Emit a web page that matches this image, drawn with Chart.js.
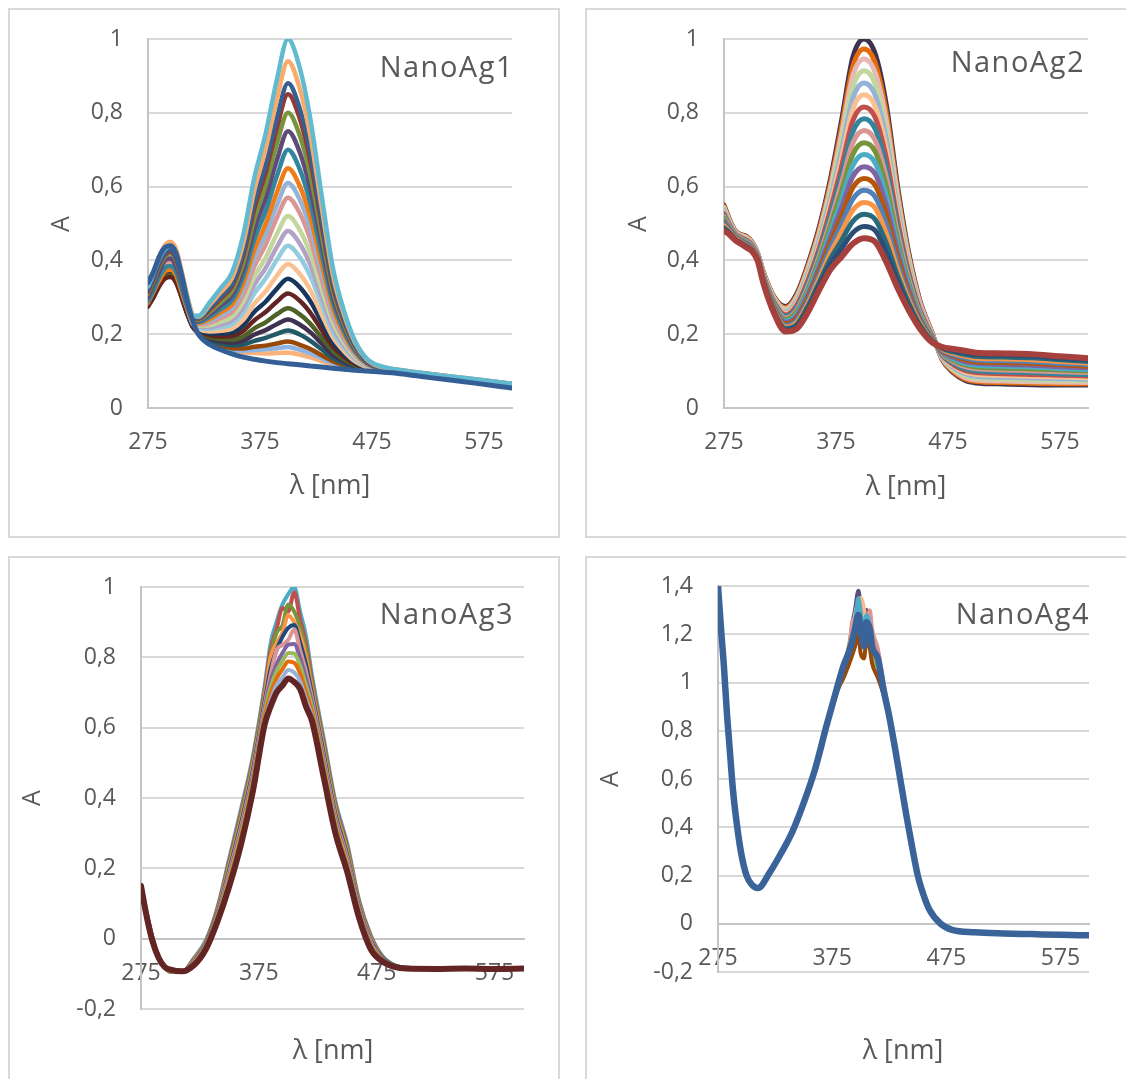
<!DOCTYPE html>
<html>
<head>
<meta charset="utf-8">
<script src="https://cdn.jsdelivr.net/npm/chart.js@4.4.1/dist/chart.umd.min.js"></script>
<style>
  html, body { margin: 0; padding: 0; background: #fff; }
  body { width: 1126px; height: 1079px; position: relative; overflow: hidden; }
  .panel { position: absolute; box-sizing: border-box; border: 2px solid #d9d9d9; background: #fff; }
  .panel canvas { display: block; }
</style>
</head>
<body>
<div class="panel" style="left:8px;top:8px;width:552px;height:530px"><canvas id="ag1" width="548" height="526"></canvas></div>
<div class="panel" style="left:585px;top:8px;width:545px;height:530px"><canvas id="ag2" width="541" height="526"></canvas></div>
<div class="panel" style="left:8px;top:556px;width:552px;height:530px"><canvas id="ag3" width="548" height="526"></canvas></div>
<div class="panel" style="left:585px;top:556px;width:545px;height:530px"><canvas id="ag4" width="541" height="526"></canvas></div>
<script>
// ---------- shared axis ticks ----------
const xTicks = [275, 375, 475, 575];
const yTicksA = [0, 0.2, 0.4, 0.6, 0.8, 1];
const yTicksB = [-0.2, 0, 0.2, 0.4, 0.6, 0.8, 1];
const yTicksC = [-0.2, 0, 0.2, 0.4, 0.6, 0.8, 1, 1.2, 1.4];

// ---------- NanoAg1: wavelengths [nm] and absorbance spectra ----------
const wl1 = [275,280,285,290,295,300,305,310,315,320,330,340,350,360,370,380,390,400,410,420,430,440,450,460,470,480,500,525,550,575,600];
const ag1_01 = [.34,.37,.41,.435,.44,.42,.36,.29,.235,.200,.172,.158,.147,.138,.132,.127,.123,.120,.117,.114,.111,.108,.105,.102,.100,.098,.093,.083,.074,.064,.054];
const ag1_02 = [.30,.35,.40,.44,.45,.43,.37,.30,.24,.202,.176,.164,.155,.149,.149,.148,.149,.150,.145,.137,.127,.117,.110,.105,.101,.099,.098,.089,.080,.071,.063];
const ag1_03 = [.29,.32,.35,.37,.38,.36,.31,.26,.22,.203,.178,.167,.158,.155,.157,.159,.162,.165,.158,.148,.135,.122,.113,.106,.102,.099,.097,.088,.079,.070,.061];
const ag1_04 = [.28,.31,.345,.37,.375,.355,.31,.26,.22,.203,.180,.169,.162,.161,.166,.169,.175,.180,.172,.160,.143,.127,.116,.107,.102,.099,.097,.087,.078,.069,.060];
const ag1_05 = [.29,.32,.355,.38,.385,.365,.315,.265,.222,.205,.184,.175,.170,.172,.182,.190,.201,.210,.200,.182,.159,.136,.121,.110,.104,.100,.097,.087,.078,.069,.060];
const ag1_06 = [.28,.31,.34,.36,.37,.35,.305,.258,.22,.207,.188,.181,.177,.183,.199,.211,.227,.240,.227,.205,.175,.145,.127,.113,.105,.100,.097,.087,.078,.069,.060];
const ag1_07 = [.28,.305,.335,.355,.36,.345,.30,.255,.22,.209,.192,.187,.185,.194,.216,.232,.254,.270,.255,.228,.191,.155,.132,.116,.106,.101,.097,.087,.078,.069,.060];
const ag1_08 = [.275,.30,.33,.35,.355,.34,.30,.255,.22,.211,.197,.194,.195,.209,.238,.260,.288,.310,.292,.258,.212,.167,.139,.119,.108,.102,.098,.088,.079,.070,.061];
const ag1_09 = [.285,.315,.35,.375,.38,.36,.315,.265,.225,.213,.202,.202,.205,.224,.261,.288,.323,.350,.329,.289,.233,.179,.146,.123,.109,.102,.098,.088,.079,.070,.061];
const ag1_10 = [.29,.32,.355,.38,.39,.37,.32,.27,.228,.215,.207,.209,.215,.239,.283,.316,.358,.390,.365,.319,.254,.192,.154,.126,.111,.103,.099,.089,.080,.071,.062];
const ag1_11 = [.295,.33,.365,.39,.40,.38,.33,.275,.23,.218,.214,.219,.227,.258,.311,.351,.401,.440,.411,.357,.281,.207,.163,.131,.113,.104,.099,.089,.080,.071,.062];
const ag1_12 = [.30,.335,.37,.395,.405,.385,.335,.28,.232,.221,.219,.226,.237,.273,.334,.379,.436,.480,.448,.388,.302,.220,.170,.134,.114,.105,.099,.089,.080,.071,.062];
const ag1_13 = [.30,.335,.375,.40,.41,.39,.34,.285,.235,.223,.224,.234,.247,.288,.356,.407,.471,.520,.485,.418,.323,.232,.177,.138,.116,.106,.100,.090,.081,.072,.063];
const ag1_14 = [.295,.33,.365,.39,.40,.38,.33,.28,.235,.226,.231,.244,.260,.307,.384,.442,.515,.570,.531,.456,.350,.248,.186,.143,.118,.107,.100,.090,.081,.072,.063];
const ag1_15 = [.30,.34,.38,.405,.415,.395,.345,.29,.24,.228,.236,.251,.270,.322,.406,.470,.549,.610,.568,.486,.371,.260,.193,.146,.120,.108,.100,.090,.081,.072,.063];
const ag1_16 = [.285,.315,.345,.37,.375,.36,.315,.27,.235,.230,.241,.259,.280,.337,.429,.498,.584,.650,.605,.517,.392,.272,.200,.150,.121,.109,.101,.091,.082,.073,.064];
const ag1_17 = [.29,.32,.355,.38,.385,.37,.325,.275,.24,.233,.247,.268,.292,.356,.457,.533,.628,.700,.651,.555,.418,.288,.209,.154,.123,.110,.101,.091,.082,.073,.064];
const ag1_18 = [.30,.335,.37,.40,.405,.385,.34,.285,.242,.236,.254,.278,.305,.374,.485,.568,.671,.750,.697,.593,.445,.303,.218,.159,.125,.111,.101,.091,.082,.073,.064];
const ag1_19 = [.31,.345,.385,.41,.42,.40,.35,.29,.245,.239,.260,.287,.317,.393,.513,.603,.715,.800,.743,.631,.471,.319,.227,.163,.127,.112,.102,.092,.083,.074,.065];
const ag1_20 = [.315,.35,.39,.415,.425,.405,.355,.295,.247,.242,.267,.297,.330,.412,.541,.638,.758,.850,.789,.669,.498,.334,.236,.168,.129,.113,.102,.092,.083,.074,.065];
const ag1_21 = [.32,.355,.395,.42,.43,.41,.36,.30,.25,.243,.271,.302,.337,.423,.558,.659,.784,.880,.816,.692,.514,.344,.242,.170,.130,.113,.102,.092,.083,.074,.065];
const ag1_22 = [.33,.37,.41,.44,.45,.43,.37,.305,.252,.247,.279,.314,.352,.446,.591,.701,.836,.940,.871,.737,.546,.362,.253,.176,.133,.114,.103,.093,.084,.075,.066];
const ag1_23 = [.33,.365,.405,.43,.44,.42,.365,.30,.25,.250,.286,.325,.367,.468,.625,.743,.889,1.0,.927,.783,.577,.381,.263,.181,.135,.116,.103,.093,.084,.075,.066];

// ---------- NanoAg2 ----------
const wl2 = [275,280,285,290,295,300,305,310,320,330,340,350,360,370,380,390,400,410,420,430,440,450,460,470,480,490,500,525,550,575,600];
const ag2_01 = [.55,.51,.48,.47,.465,.45,.42,.37,.30,.275,.31,.39,.49,.62,.78,.95,1.0,.96,.82,.60,.42,.29,.21,.13,.095,.075,.068,.065,.063,.062,.062];
const ag2_02 = [.547,.508,.479,.469,.464,.449,.419,.369,.298,.272,.305,.384,.482,.608,.762,.925,.973,.935,.799,.586,.412,.286,.209,.132,.098,.079,.072,.069,.067,.066,.066];
const ag2_03 = [.543,.506,.478,.468,.462,.448,.418,.367,.296,.268,.301,.377,.473,.596,.743,.900,.946,.909,.778,.573,.405,.283,.207,.134,.102,.083,.076,.073,.071,.070,.069];
const ag2_04 = [.539,.504,.476,.466,.460,.446,.417,.365,.293,.264,.295,.369,.463,.581,.721,.869,.914,.878,.752,.556,.395,.278,.205,.136,.105,.088,.081,.078,.076,.075,.074];
const ag2_05 = [.535,.501,.475,.465,.458,.445,.416,.363,.290,.260,.289,.361,.453,.566,.699,.839,.881,.848,.727,.540,.386,.274,.203,.138,.109,.093,.086,.083,.081,.079,.078];
const ag2_06 = [.530,.499,.473,.463,.457,.443,.414,.362,.287,.256,.283,.354,.442,.551,.676,.809,.849,.817,.701,.523,.377,.269,.202,.140,.113,.097,.091,.088,.086,.084,.082];
const ag2_07 = [.526,.496,.472,.462,.455,.442,.413,.360,.285,.252,.278,.346,.432,.537,.654,.778,.816,.787,.676,.507,.367,.265,.200,.142,.117,.102,.096,.093,.091,.089,.087];
const ag2_08 = [.522,.494,.470,.460,.453,.440,.412,.358,.282,.248,.272,.338,.422,.522,.632,.748,.784,.756,.650,.490,.358,.260,.198,.144,.121,.107,.101,.098,.096,.093,.091];
const ag2_09 = [.518,.492,.469,.459,.451,.439,.411,.356,.279,.244,.266,.330,.412,.507,.610,.718,.752,.725,.625,.474,.349,.256,.196,.146,.125,.112,.106,.103,.101,.098,.096];
const ag2_10 = [.514,.489,.467,.457,.449,.437,.410,.354,.277,.240,.261,.322,.402,.493,.588,.687,.719,.695,.599,.457,.339,.251,.194,.148,.129,.117,.111,.108,.106,.103,.100];
const ag2_11 = [.509,.487,.466,.456,.448,.436,.408,.353,.274,.236,.255,.315,.391,.478,.565,.657,.687,.664,.574,.441,.330,.247,.193,.150,.133,.121,.116,.113,.111,.107,.104];
const ag2_12 = [.505,.484,.464,.454,.446,.434,.407,.351,.271,.232,.249,.307,.381,.463,.543,.627,.654,.634,.548,.424,.321,.242,.191,.152,.137,.126,.121,.118,.116,.112,.109];
const ag2_13 = [.501,.482,.463,.453,.444,.433,.406,.349,.269,.227,.244,.299,.371,.449,.521,.597,.622,.603,.523,.408,.312,.238,.189,.155,.141,.131,.125,.123,.121,.117,.113];
const ag2_14 = [.497,.480,.461,.451,.442,.431,.405,.347,.266,.223,.238,.291,.361,.434,.499,.566,.590,.572,.497,.391,.302,.233,.187,.157,.144,.136,.130,.128,.126,.121,.118];
const ag2_15 = [.493,.477,.460,.450,.440,.430,.404,.345,.263,.219,.232,.283,.351,.419,.477,.536,.557,.542,.472,.375,.293,.229,.185,.159,.148,.141,.135,.133,.131,.126,.122];
const ag2_16 = [.488,.475,.458,.448,.439,.428,.402,.344,.260,.215,.226,.276,.340,.404,.454,.506,.525,.511,.446,.358,.284,.224,.184,.161,.152,.145,.140,.138,.136,.131,.126];
const ag2_17 = [.484,.472,.457,.447,.437,.427,.401,.342,.258,.211,.221,.268,.330,.390,.432,.475,.492,.481,.421,.342,.274,.220,.182,.163,.156,.150,.145,.143,.141,.135,.131];
const ag2_18 = [.48,.47,.455,.445,.435,.425,.40,.34,.255,.207,.215,.26,.32,.375,.41,.445,.46,.45,.395,.325,.265,.215,.18,.165,.16,.155,.15,.148,.146,.14,.135];

// ---------- NanoAg3 ----------
const wl3 = [275,280,285,290,295,300,310,320,330,340,350,360,370,380,385,390,395,400,405,410,415,420,430,440,450,460,470,480,490,500,525,550,575,600];
const ag3_01 = [.15,.07,0,-.05,-.08,-.095,-.095,-.055,-.005,.09,.23,.37,.52,.72,.84,.90,.95,.98,1.0,.93,.86,.75,.57,.39,.27,.11,.01,-.05,-.075,-.083,-.085,-.085,-.085,-.085];
const ag3_02 = [.15,.069,-.001,-.051,-.08,-.094,-.095,-.057,-.008,.086,.222,.36,.51,.709,.822,.88,.94,.93,.985,.908,.84,.737,.559,.381,.262,.105,.006,-.052,-.076,-.083,-.085,-.085,-.085,-.085];
const ag3_03 = [.15,.068,-.002,-.051,-.08,-.094,-.095,-.059,-.01,.082,.214,.35,.50,.698,.804,.87,.89,.95,.93,.886,.82,.724,.548,.372,.254,.10,.002,-.053,-.076,-.083,-.085,-.085,-.085,-.085];
const ag3_04 = [.15,.067,-.003,-.052,-.08,-.093,-.094,-.061,-.013,.078,.206,.34,.49,.687,.80,.84,.87,.92,.90,.864,.80,.711,.537,.363,.246,.095,-.002,-.055,-.077,-.084,-.085,-.085,-.085,-.085];
const ag3_05 = [.15,.066,-.004,-.052,-.08,-.092,-.094,-.063,-.015,.074,.198,.33,.48,.676,.768,.82,.858,.884,.892,.842,.78,.698,.526,.354,.238,.09,-.006,-.056,-.077,-.084,-.085,-.085,-.085,-.085];
const ag3_06 = [.15,.065,-.005,-.053,-.08,-.092,-.094,-.065,-.018,.07,.19,.32,.47,.665,.75,.82,.835,.85,.88,.82,.76,.685,.515,.345,.23,.085,-.01,-.058,-.078,-.084,-.085,-.085,-.085,-.085];
const ag3_07 = [.15,.064,-.006,-.053,-.08,-.091,-.094,-.067,-.02,.066,.182,.31,.46,.654,.732,.78,.812,.836,.838,.798,.74,.672,.504,.336,.222,.08,-.014,-.059,-.078,-.084,-.085,-.085,-.085,-.085];
const ag3_08 = [.15,.063,-.007,-.054,-.08,-.09,-.094,-.069,-.023,.062,.174,.30,.45,.643,.714,.76,.789,.812,.811,.776,.72,.659,.493,.327,.214,.075,-.018,-.061,-.079,-.085,-.085,-.085,-.085,-.085];
const ag3_09 = [.15,.062,-.008,-.054,-.08,-.089,-.093,-.071,-.025,.058,.166,.29,.44,.632,.696,.74,.766,.788,.784,.754,.70,.646,.482,.318,.206,.07,-.022,-.062,-.079,-.085,-.085,-.085,-.085,-.085];
const ag3_10 = [.15,.061,-.009,-.055,-.08,-.089,-.093,-.073,-.028,.054,.158,.28,.43,.621,.678,.72,.743,.764,.757,.732,.68,.633,.471,.309,.198,.065,-.026,-.064,-.08,-.085,-.086,-.085,-.086,-.085];
const ag3_11 = [.15,.06,-.01,-.055,-.08,-.088,-.093,-.075,-.03,.05,.15,.27,.42,.61,.66,.70,.72,.74,.73,.71,.66,.62,.46,.30,.19,.06,-.03,-.065,-.08,-.085,-.086,-.085,-.086,-.085];

// ---------- NanoAg4 ----------
const wl4 = [275,278,280,283,285,288,290,295,300,305,310,320,330,340,350,360,370,380,385,390,393,395,398,400,403,405,408,410,415,420,425,430,435,440,445,450,455,460,470,480,500,525,550,575,600];
const ag4_01 = [1.40,1.21,1.09,.87,.75,.57,.475,.305,.205,.162,.15,.212,.292,.385,.505,.645,.825,.985,1.06,1.15,1.25,1.30,1.38,1.32,1.27,1.30,1.25,1.20,1.12,.98,.87,.735,.595,.455,.325,.205,.122,.062,.002,-.024,-.034,-.039,-.042,-.045,-.047];
const ag4_02 = [1.40,1.19,1.07,.855,.735,.555,.465,.298,.198,.158,.147,.208,.288,.378,.497,.638,.815,.975,1.04,1.12,1.20,1.28,1.33,1.35,1.30,1.22,1.28,1.18,1.10,.99,.865,.732,.592,.452,.322,.202,.121,.061,.001,-.026,-.036,-.041,-.044,-.047,-.049];
const ag4_03 = [1.40,1.20,1.08,.862,.742,.562,.472,.302,.202,.161,.149,.211,.291,.382,.502,.642,.822,.982,1.05,1.16,1.22,1.20,1.30,1.25,1.20,1.26,1.20,1.12,1.06,.96,.862,.731,.591,.451,.321,.201,.12,.06,0,-.025,-.035,-.04,-.043,-.046,-.048];
const ag4_04 = [1.40,1.20,1.08,.86,.74,.56,.47,.30,.20,.16,.148,.21,.29,.38,.50,.64,.818,.97,1.02,1.08,1.12,1.15,1.20,1.12,1.10,1.18,1.14,1.08,1.02,.95,.855,.728,.588,.448,.318,.198,.119,.059,-.001,-.026,-.036,-.041,-.044,-.047,-.049];
const ag4_05 = [1.40,1.21,1.085,.865,.745,.565,.473,.303,.203,.162,.15,.212,.293,.384,.505,.646,.826,.985,1.07,1.13,1.26,1.24,1.32,1.28,1.16,1.22,1.30,1.22,1.14,1.0,.87,.736,.596,.456,.326,.206,.124,.063,.003,-.023,-.033,-.038,-.041,-.044,-.046];
const ag4_06 = [1.40,1.20,1.078,.858,.738,.558,.468,.299,.199,.159,.147,.209,.289,.379,.499,.639,.819,.979,1.06,1.14,1.18,1.25,1.35,1.29,1.22,1.28,1.24,1.17,1.08,.97,.863,.733,.593,.453,.323,.203,.122,.061,.001,-.025,-.035,-.04,-.043,-.046,-.048];
const ag4_07 = [1.40,1.20,1.08,.86,.74,.56,.47,.30,.20,.16,.148,.21,.29,.38,.50,.64,.82,.99,1.07,1.13,1.18,1.22,1.28,1.22,1.15,1.25,1.22,1.15,1.10,.97,.86,.73,.59,.45,.32,.20,.12,.06,0,-.025,-.035,-.04,-.043,-.046,-.048];

// ---------- drawing helpers ----------
const INK = '#595959';
const FONT = 'Open Sans';

const fmtNum = v => {
  const r = Math.round(v * 10) / 10;
  return (r === 0 ? '0' : String(r)).replace('.', ',');
};

// panel title, axis titles
const panelText = {
  id: 'panelText',
  afterDraw(chart, args, o) {
    const ctx = chart.ctx;
    ctx.save();
    ctx.fillStyle = INK;
    ctx.font = `29px "${FONT}"`;
    ctx.textAlign = 'right';
    ctx.textBaseline = 'alphabetic';
    ctx.letterSpacing = '1.5px';
    ctx.fillText(o.title, o.tx, o.ty);
    ctx.letterSpacing = '0px';
    ctx.textAlign = 'center';
    ctx.textBaseline = 'middle';
    ctx.font = `27px "${FONT}"`;
    ctx.fillText('λ [nm]', o.xx, o.xy);
    ctx.font = `25px "${FONT}"`;
    ctx.translate(o.yx, o.yy);
    ctx.rotate(-Math.PI / 2);
    ctx.fillText('A', 0, 0);
    ctx.restore();
  }
};

// list entries: [values, colour, width], in painting order (first painted first)
function lines(wl, list) {
  return list.map(([vals, color, width]) => ({
    data: wl.map((x, i) => ({ x, y: vals[i] })),
    borderColor: color,
    borderWidth: width,
    pointRadius: 0,
    fill: false,
    cubicInterpolationMode: 'monotone',
    borderJoinStyle: 'round',
    borderCapStyle: 'round'
  })).reverse(); // Chart.js paints dataset 0 last
}

function panel(id, geo, wl, list, yTicks, xAtZero, text) {
  const tickFont = { family: FONT, size: 23 };
  new Chart(document.getElementById(id), {
    type: 'line',
    data: { datasets: lines(wl, list) },
    options: {
      responsive: false,
      animation: false,
      events: [],
      layout: { padding: { left: 0, top: geo.top, right: geo.right, bottom: geo.bottom } },
      plugins: { legend: { display: false }, tooltip: { enabled: false }, panelText: text },
      scales: {
        x: {
          type: 'linear',
          min: xTicks[0],
          max: wl[wl.length - 1],
          position: xAtZero ? { y: 0 } : 'bottom',
          grid: { display: false, drawTicks: false },
          border: { display: true, color: '#c4c4c4', width: 2 },
          ticks: { color: INK, font: tickFont, padding: 21, maxRotation: 0, autoSkip: false },
          afterBuildTicks: s => { s.ticks = xTicks.map(v => ({ value: v })); },
          afterFit: s => { if (!xAtZero) s.height = 70; }
        },
        y: {
          type: 'linear',
          min: yTicks[0],
          max: yTicks[yTicks.length - 1],
          grid: { color: '#d9d9d9', lineWidth: 2, drawTicks: false },
          border: { display: true, color: '#c4c4c4', width: 2 },
          ticks: { color: INK, font: tickFont, padding: 25, callback: v => fmtNum(v) },
          afterBuildTicks: s => { s.ticks = yTicks.map(v => ({ value: v })); },
          afterFit: s => { s.width = geo.left; s.paddingTop = 0; s.paddingBottom = 0; }
        }
      }
    },
    plugins: [panelText]
  });
}

// ---------- NanoAg1 ----------
panel('ag1', { left: 138, top: 29, right: 46, bottom: 58 }, wl1, [
  [ag1_02, '#f9b27a', 4.5], [ag1_03, '#8eb4e3', 4.5], [ag1_04, '#984807', 4.5], [ag1_05, '#215968', 4.5],
  [ag1_06, '#403151', 4.5], [ag1_07, '#4f6228', 4.5], [ag1_08, '#632523', 4.5], [ag1_09, '#17375e', 4.5],
  [ag1_10, '#fac090', 4.5], [ag1_11, '#93cddd', 4.5], [ag1_12, '#b3a2c7', 4.5], [ag1_13, '#c3d69b', 4.5],
  [ag1_14, '#d99694', 4.5], [ag1_15, '#95b3d7', 4.5], [ag1_16, '#f17b14', 4.5], [ag1_17, '#31859c', 4.5],
  [ag1_18, '#604a7b', 4.5], [ag1_19, '#77933c', 4.5], [ag1_20, '#953735', 4.5], [ag1_21, '#376092', 4.5],
  [ag1_22, '#f9ab6b', 4.5], [ag1_23, '#62bad1', 4.5], [ag1_01, '#335f96', 5]
], yTicksA, false, { title: 'NanoAg1', tx: 504, ty: 67, xx: 320, xy: 476, yx: 52, yy: 214 });

// ---------- NanoAg2 ----------
panel('ag2', { left: 137, top: 29, right: 40, bottom: 58 }, wl2, [
  [ag2_01, '#403151', 5], [ag2_02, '#e46c0a', 5], [ag2_03, '#e6b9b8', 5], [ag2_04, '#c3d69b', 5],
  [ag2_05, '#95b3d7', 5], [ag2_06, '#fac090', 5], [ag2_07, '#c0504d', 5], [ag2_08, '#31859c', 5],
  [ag2_09, '#d99694', 5], [ag2_10, '#77933c', 5], [ag2_11, '#4bacc6', 5], [ag2_12, '#8064a2', 5],
  [ag2_13, '#b65708', 5], [ag2_14, '#4f81bd', 5], [ag2_15, '#f79646', 5], [ag2_16, '#276a7c', 5],
  [ag2_17, '#2c4d75', 5], [ag2_18, '#a5403d', 6]
], yTicksA, false, { title: 'NanoAg2', tx: 498, ty: 62, xx: 319, xy: 477, yx: 52, yy: 214 });

// ---------- NanoAg3 ----------
panel('ag3', { left: 131, top: 29, right: 34, bottom: 75 }, wl3, [
  [ag3_01, '#4bacc6', 4], [ag3_02, '#c0504d', 4], [ag3_03, '#77933c', 4], [ag3_04, '#f79646', 4],
  [ag3_05, '#1f497d', 4], [ag3_06, '#d99694', 4], [ag3_07, '#8064a2', 4], [ag3_08, '#9bbb59', 4],
  [ag3_09, '#e46c0a', 4], [ag3_10, '#95b3d7', 4], [ag3_11, '#632523', 6]
], yTicksB, true, { title: 'NanoAg3', tx: 504, ty: 66, xx: 323, xy: 493, yx: 23, yy: 240 });

// ---------- NanoAg4 ----------
panel('ag4', { left: 131, top: 28, right: 39, bottom: 112 }, wl4, [
  [ag4_01, '#604a7b', 4], [ag4_02, '#f9b98a', 4], [ag4_03, '#9bbb59', 4], [ag4_04, '#984807', 4],
  [ag4_05, '#d99694', 4], [ag4_06, '#4bacc6', 4], [ag4_07, '#3a639a', 6.5]
], yTicksC, true, { title: 'NanoAg4', tx: 503, ty: 66, xx: 316, xy: 493, yx: 24, yy: 221 });
</script>
</body>
</html>
